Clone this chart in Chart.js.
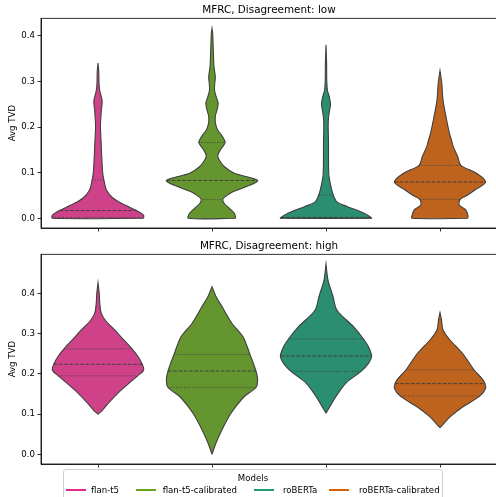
<!DOCTYPE html>
<html>
<head>
<meta charset="utf-8">
<script src="https://cdn.jsdelivr.net/npm/chart.js@4.4.1/dist/chart.umd.min.js"></script>
<style>
  body { margin: 0; width: 496px; height: 497px; overflow: hidden; background: #fff; position: relative; font-family: 'DejaVu Sans', sans-serif; }
  canvas { position: absolute; left: 0; }
  #lowChart { top: 0; }
  #highChart { top: 236px; }
  .legend { position: absolute; left: 63px; top: 469px; width: 380px; height: 40px; box-sizing: border-box;
            border: 1px solid #d0d0d0; border-radius: 3px; background: rgba(255,255,255,0.8); font-size: 8.6px; color: #000; }
  .legend .ttl { position: absolute; left: 0; width: 100%; top: 3px; text-align: center; }
  .legend .swatch { position: absolute; top: 19px; width: 20px; height: 2px; }
  .legend .lbl { position: absolute; top: 15px; white-space: nowrap; }
</style>
</head>
<body>
<canvas id="lowChart" width="497" height="240"></canvas>
<canvas id="highChart" width="497" height="240"></canvas>
<div class="legend" id="legend"></div>

<script>
// ---- data ----
const categories = ['flan-t5', 'flan-t5-calibrated', 'roBERTa', 'roBERTa-calibrated'];
const legendColors = ['#e7298a', '#66a61e', '#1b9e77', '#d95f02'];
const violinColors = ['#cf4189', '#65952f', '#2b8e70', '#be631d'];
const panelTitles = ['MFRC, Disagreement: low', 'MFRC, Disagreement: high'];
const yTicks = [0.0, 0.1, 0.2, 0.3, 0.4];

// Disagreement: low — density profile (y value, relative density)
const lowFlanY = [0, 0.007, 0.017, 0.029, 0.044, 0.062, 0.084, 0.098, 0.135, 0.17, 0.20, 0.22, 0.237, 0.25, 0.259, 0.27, 0.28, 0.296, 0.32, 0.34];
const lowFlanD = [45, 45, 38, 26.7, 15, 8.3, 5.8, 4.7, 3.7, 3, 2.4, 2.8, 3.3, 4, 4, 2.8, 1.7, 1, 0.8, 0];
const lowFlanCalY = [0, 0.011, 0.022, 0.032, 0.041, 0.047, 0.058, 0.069, 0.083, 0.0985, 0.113, 0.127, 0.138, 0.152, 0.166, 0.178, 0.193, 0.208, 0.223, 0.237, 0.252, 0.266, 0.281, 0.296, 0.31, 0.332, 0.368, 0.405, 0.416];
const lowFlanCalD = [23.8, 22.5, 17.5, 12.5, 10.8, 13, 21, 34, 45.8, 22.5, 12.5, 7.5, 5.8, 9, 13.3, 10.8, 5.8, 3.5, 3.3, 5, 6.2, 4.2, 2.5, 2.8, 3.3, 2, 1.3, 0.7, 0];
const lowRobertaY = [0, 0.001, 0.007, 0.0146, 0.0255, 0.036, 0.051, 0.0767, 0.098, 0.1715, 0.20, 0.22, 0.235, 0.25, 0.265, 0.28, 0.30, 0.34, 0.38];
const lowRobertaD = [46, 46, 42, 35, 21.7, 11, 7.3, 4.3, 2.8, 2.5, 2.2, 2.5, 3.5, 4.5, 3.5, 1.5, 0.8, 0.6, 0];
const lowRobertaCalY = [0, 0.007, 0.018, 0.029, 0.0416, 0.05, 0.062, 0.0795, 0.0986, 0.116, 0.135, 0.157, 0.1715, 0.186, 0.223, 0.259, 0.296, 0.323];
const lowRobertaCalD = [28, 28, 26, 19.3, 20.3, 27, 35, 45.8, 36.7, 21, 17.8, 13.3, 11.5, 9.5, 6, 3, 1.8, 0];

// Disagreement: high
const highFlanY = [0.0994, 0.11, 0.126, 0.151, 0.176, 0.195, 0.209, 0.2236, 0.243, 0.262, 0.284, 0.309, 0.33, 0.35, 0.375, 0.40, 0.426];
const highFlanD = [0, 4.5, 10, 19.5, 30.8, 39.7, 45.6, 44.3, 40, 34, 25.8, 16.7, 8.3, 3.3, 1.8, 1.2, 0];
const highFlanCalY = [0, 0.028, 0.061, 0.102, 0.143, 0.166, 0.185, 0.207, 0.248, 0.292, 0.325, 0.367, 0.392, 0.4165];
const highFlanCalD = [0, 4, 10, 19, 32, 44, 45.6, 44, 38, 31, 20, 10, 4, 0];
const highRobertaY = [0.102, 0.119, 0.144, 0.177, 0.206, 0.226, 0.244, 0.267, 0.2865, 0.317, 0.358, 0.392, 0.433, 0.473];
const highRobertaD = [0, 4, 10, 20, 35, 42.5, 45.6, 42.5, 37.5, 27.5, 11, 7, 2, 0];
const highRobertaCalY = [0.066, 0.077, 0.093, 0.118, 0.145, 0.164, 0.1755, 0.185, 0.210, 0.251, 0.284, 0.309, 0.334, 0.352];
const highRobertaCalD = [0, 4, 10, 23, 40, 45.6, 45, 43, 34, 22.5, 10, 3, 1.5, 0];

// quartiles [Q1, median, Q3]
const lowQuartiles = [[0.002, 0.017, 0.084], [0.041, 0.083, 0.166], [0.0, 0.002, 0.051], [0.0416, 0.0795, 0.116]];
const highQuartiles = [[0.195, 0.2236, 0.262], [0.166, 0.207, 0.248], [0.206, 0.244, 0.2865], [0.145, 0.1755, 0.210]];

const HALF_WIDTH = 0.4;      // seaborn width=0.8, scale='width'
const EDGE = '#3f3f3f';

Chart.defaults.font.family = "'DejaVu Sans', sans-serif";
Chart.defaults.color = '#000';

/**
 * half width of a violin at value y (profile lookup)
 */
function halfAt(y, ys, ds, maxD) {
  if (y <= ys[0]) return ds[0] / maxD * HALF_WIDTH;
  for (let k = 1; k < ys.length; k++) {
    if (y <= ys[k]) {
      const t = (y - ys[k - 1]) / (ys[k] - ys[k - 1]);
      return (ds[k - 1] + t * (ds[k] - ds[k - 1])) / maxD * HALF_WIDTH;
    }
  }
  return 0;
}

function buildDatasets(profiles, quartiles) {
  const datasets = [];
  profiles.forEach(([ys, ds], i) => {
    const maxD = Math.max(...ds);
    const pts = [];
    for (let k = 0; k < ys.length; k++) pts.push({ x: i + ds[k] / maxD * HALF_WIDTH, y: ys[k] });
    for (let k = ys.length - 1; k >= 0; k--) pts.push({ x: i - ds[k] / maxD * HALF_WIDTH, y: ys[k] });
    pts.push(pts[0]);
    datasets.push({
      label: categories[i],
      data: pts,
      order: 1,
      fill: 'shape',
      backgroundColor: violinColors[i],
      borderColor: EDGE,
      borderWidth: 1.1,
      pointRadius: 0,
      tension: 0.3
    });

    quartiles[i].forEach((q, j) => {
      const h = halfAt(q, ys, ds, maxD);
      datasets.push({
        label: categories[i] + ' q' + j,
        data: [{ x: i - h, y: q }, { x: i + h, y: q }],
        order: 0,
        fill: false,
        borderColor: EDGE,
        borderWidth: 1,
        borderDash: j === 1 ? [3.7, 1.6] : [1, 1.65],
        pointRadius: 0
      });
    });
  });
  return datasets;
}

// panel title centred over the plot area, plus the full axes frame
const panelDecor = {
  id: 'panelDecor',
  afterDraw(chart, args, opts) {
    const { ctx, chartArea: a } = chart;
    ctx.save();
    ctx.strokeStyle = '#000';
    ctx.lineWidth = 0.8;
    ctx.strokeRect(a.left, a.top, a.right - a.left, a.bottom - a.top);
    ctx.fillStyle = '#000';
    ctx.font = "10.4px 'DejaVu Sans', sans-serif";
    ctx.textAlign = 'center';
    ctx.textBaseline = 'middle';
    ctx.fillText(opts.text, (a.left + a.right) / 2, 10);
    ctx.restore();
  }
};

function makePanel(canvasId, title, profiles, quartiles, yMin, yMax) {
  const canvas = document.getElementById(canvasId);
  return new Chart(canvas.getContext('2d'), {
    type: 'line',
    data: { datasets: buildDatasets(profiles, quartiles) },
    plugins: [panelDecor],
    options: {
      responsive: false,
      devicePixelRatio: 1,
      animation: false,
      layout: { padding: { top: 18.3, left: 0, right: 0, bottom: 0 } },
      plugins: {
        legend: { display: false },
        tooltip: { enabled: false },
        panelDecor: { text: title }
      },
      scales: {
        x: {
          type: 'linear',
          min: -0.5,
          max: 3.5,
          afterBuildTicks: (scale) => { scale.ticks = categories.map((c, i) => ({ value: i })); },
          afterFit: (scale) => { scale.height = 12; },
          ticks: { callback: () => '' },
          grid: { drawOnChartArea: false, drawTicks: true, tickLength: 3.5, color: '#000', lineWidth: 0.8 },
          border: { display: true, color: '#000', width: 0.8 }
        },
        y: {
          type: 'linear',
          min: yMin,
          max: yMax,
          afterBuildTicks: (scale) => { scale.ticks = yTicks.map(v => ({ value: v })); },
          afterFit: (scale) => { scale.width = 41; },
          ticks: { font: { size: 8.6 }, padding: 2.5, color: '#000', callback: (v) => Number(v).toFixed(1) },
          grid: { drawOnChartArea: false, drawTicks: true, tickLength: 3.5, color: '#000', lineWidth: 0.8 },
          border: { display: true, color: '#000', width: 0.8 },
          title: { display: true, text: 'Avg TVD', font: { size: 8.6 }, padding: { top: 8, bottom: 0 }, color: '#000' }
        }
      }
    }
  });
}

makePanel('lowChart', panelTitles[0],
  [[lowFlanY, lowFlanD], [lowFlanCalY, lowFlanCalD], [lowRobertaY, lowRobertaD], [lowRobertaCalY, lowRobertaCalD]],
  lowQuartiles, -0.0212, 0.4381);

makePanel('highChart', panelTitles[1],
  [[highFlanY, highFlanD], [highFlanCalY, highFlanCalD], [highRobertaY, highRobertaD], [highRobertaCalY, highRobertaCalD]],
  highQuartiles, -0.0241, 0.4969);

// legend (html)
const legendEl = document.getElementById('legend');
const swatchLeft = [2, 72, 190, 265];
const labelLeft = [27, 98.7, 219, 295];
legendEl.innerHTML = '<div class="ttl">Models</div>' + categories.map((c, i) =>
  `<div class="swatch" style="left:${swatchLeft[i]}px;background:${legendColors[i]}"></div>` +
  `<div class="lbl" style="left:${labelLeft[i]}px">${c}</div>`).join('');
</script>
</body>
</html>
